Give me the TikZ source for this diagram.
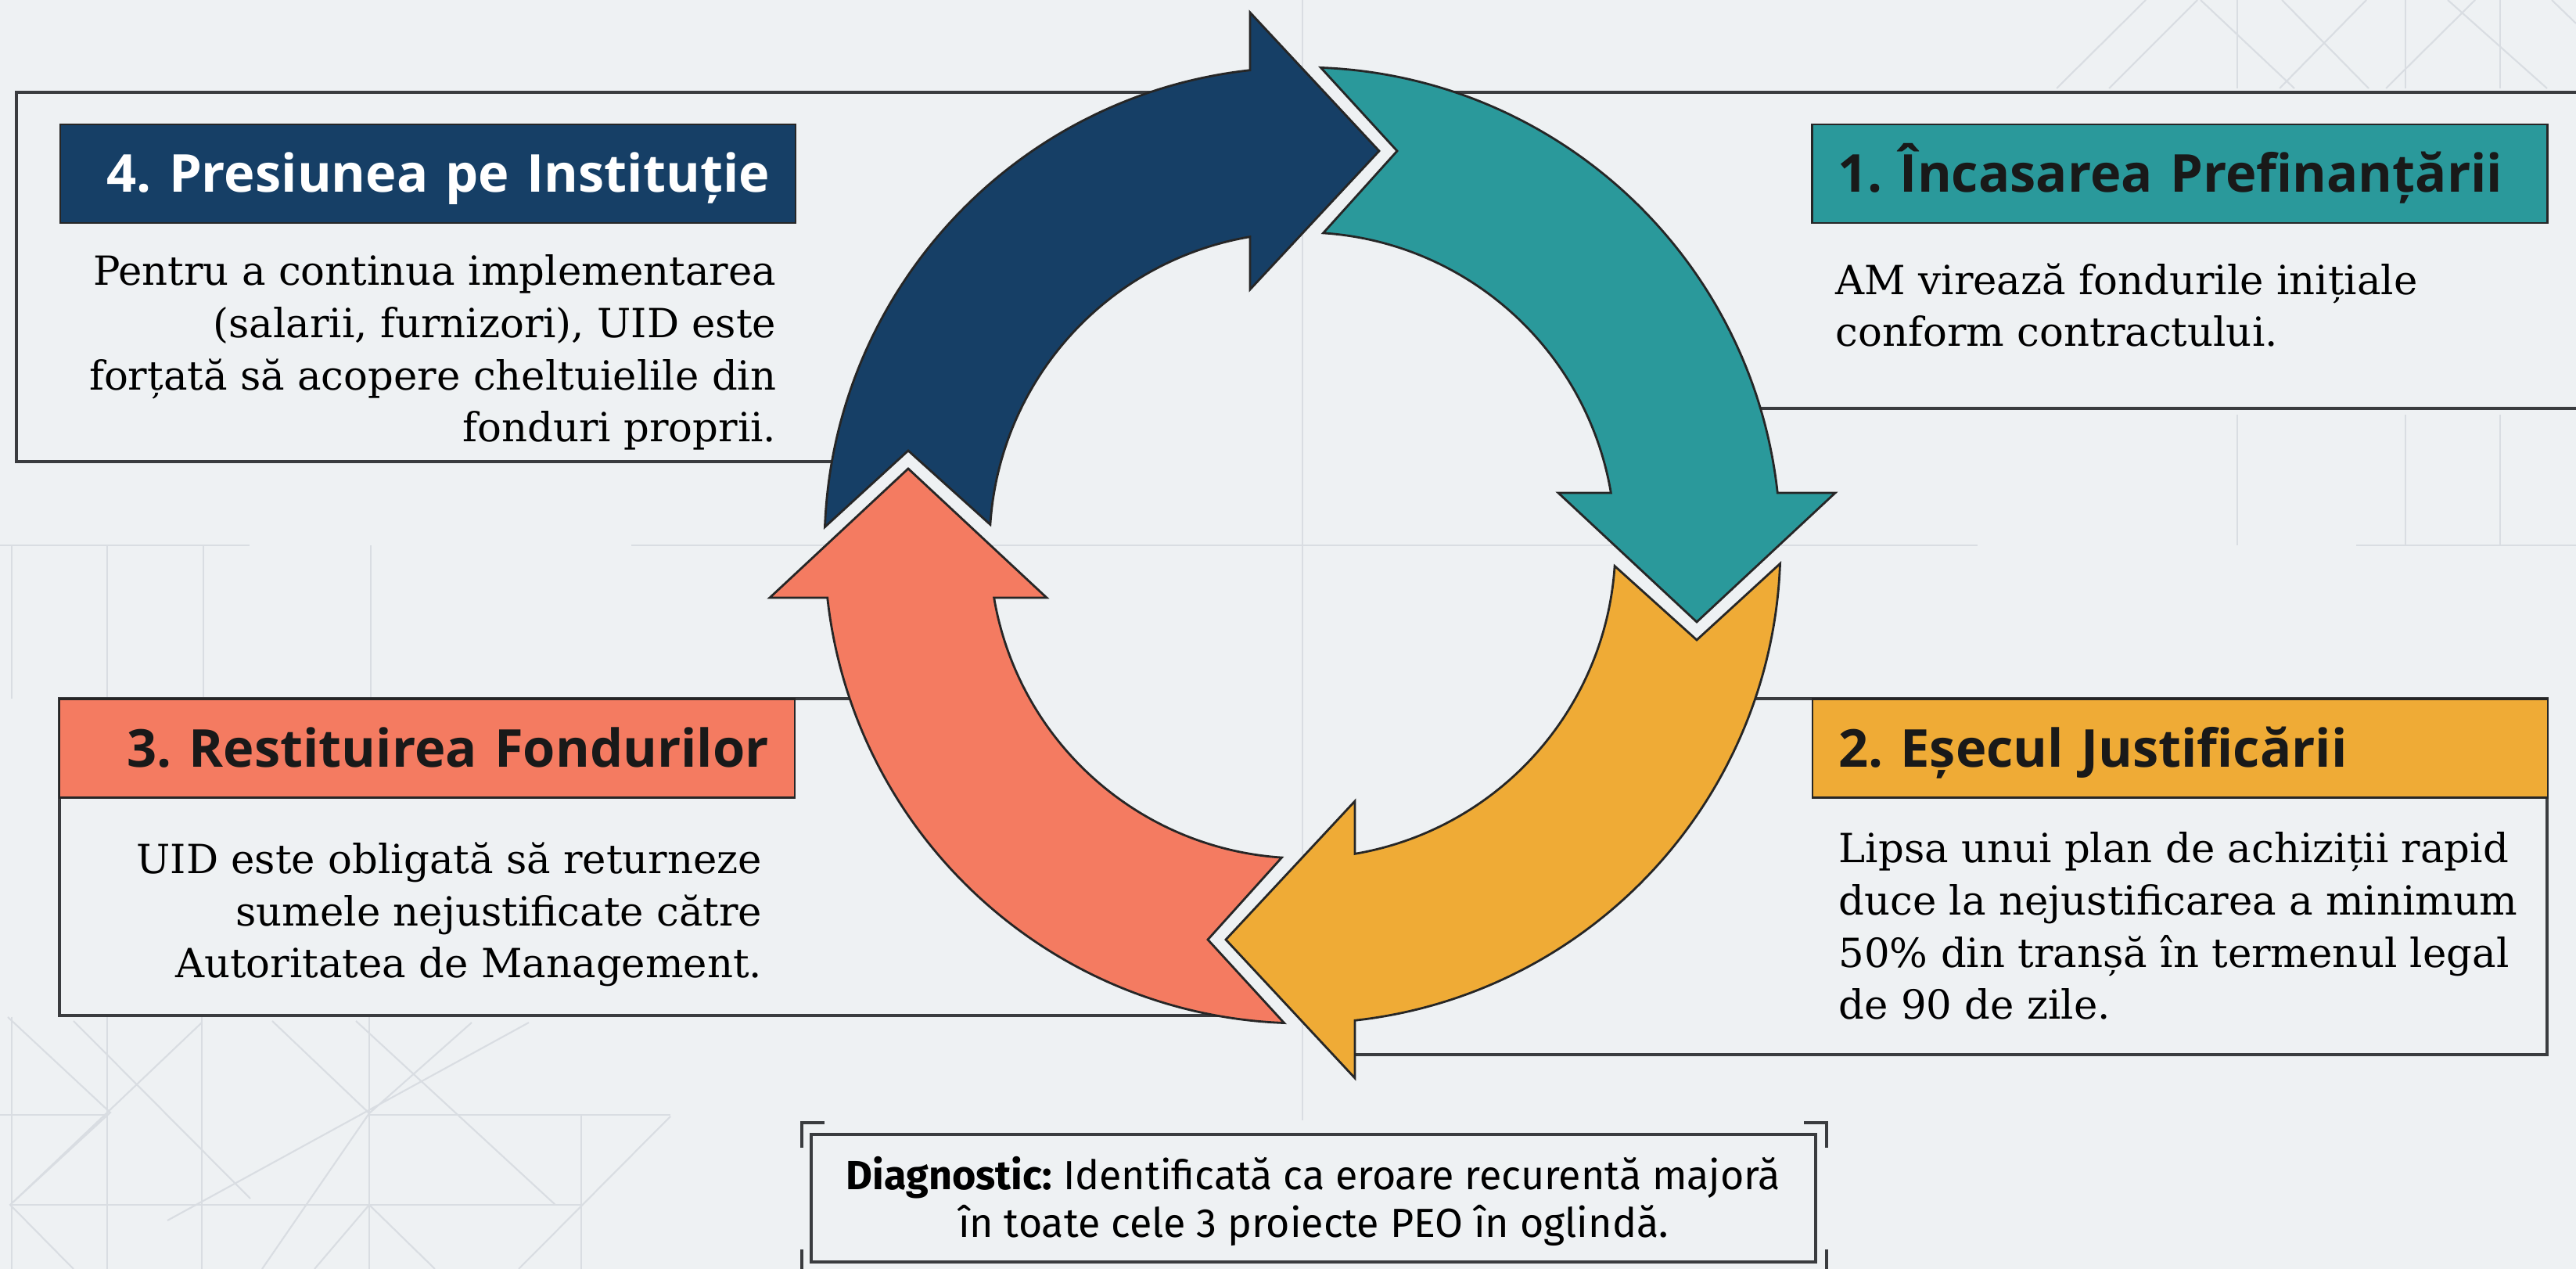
\documentclass[tikz,border=0pt]{standalone}
\usepackage{fontspec}
\setmainfont{DejaVu Serif}
\newfontfamily\headfont{Open Sans}
\newfontfamily\notefont{Fira Sans}
\usetikzlibrary{positioning}
\frenchspacing
\definecolor{cycblue}{HTML}{163F66}
\definecolor{cycteal}{HTML}{2A999B}
\definecolor{cycgold}{HTML}{EFAB36}
\definecolor{cycsalmon}{HTML}{F47B61}
\definecolor{paper}{HTML}{EEF1F3}
\definecolor{frameline}{HTML}{3A3C3F}
\definecolor{gridline}{HTML}{D9DDE2}
\tikzset{headbox/.style={draw=black!85, line width=0.8pt, minimum width=9.4cm, minimum height=1.26cm,
  text width=8.74cm, inner xsep=0.33cm, inner ysep=0pt, text height=0.48cm, text depth=0pt,
  font=\headfont\bfseries\fontsize{19}{22}\selectfont},
  blurb/.style={inner sep=0pt, font=\fontsize{14.6}{19}\selectfont},
  frame/.style={draw=frameline, line width=1.2pt},
  faint/.style={draw=gridline, line width=0.6pt}}

\begin{document}
\begin{tikzpicture}
\useasboundingbox (0,0) rectangle (32.93,16.22);
\fill[paper] (0,0) rectangle (32.93,16.22);

% faint background lines
\draw[faint] (16.65,16.22)--(16.65,1.9);
\draw[faint] (0,9.25)--(3.19,9.25) (8.07,9.25)--(25.28,9.25) (30.12,9.25)--(32.93,9.25);
\foreach \x in {0.15,1.37,2.60,4.74} \draw[faint] (\x,9.25)--(\x,7.29);
\foreach \x in {28.60,30.75,31.96} \draw[faint] (\x,9.25)--(\x,10.92) (\x,16.22)--(\x,15.09);
\draw[faint] (27.43,16.22)--(26.29,15.09) (28.09,16.22)--(26.96,15.09) (28.13,16.22)--(29.33,15.09)
  (29.17,16.22)--(30.28,15.09) (30.25,16.22)--(29.14,15.09) (31.29,16.22)--(32.56,15.09)
  (31.64,16.22)--(30.50,15.09) (32.62,16.22)--(32.93,15.92);
\foreach \x in {0.15,1.37,2.58,4.72} \draw[faint] (\x,3.22)--(\x,0);
\draw[faint] (7.43,1.97)--(7.43,0) (0,1.97)--(1.37,1.97) (4.72,1.97)--(8.57,1.97) (0.13,0.82)--(7.43,0.82);
\draw[faint] (0.10,3.22)--(1.41,2.00)--(0.13,0.82)--(0.94,0) (0.94,3.17)--(3.2,0.9) (2.58,3.15)--(0.13,0.82)
  (3.48,3.17)--(4.72,1.99)--(6.03,3.15) (6.76,3.15)--(2.14,0.62) (4.55,3.17)--(7.10,0.82)
  (8.57,1.95)--(6.63,0) (4.02,0)--(4.72,0.82)--(5.56,0) (4.72,1.99)--(3.35,0);

% frames of the four steps
\draw[frame] (15.5,15.04)--(0.21,15.04)--(0.21,10.32)--(11.0,10.32);
\draw[frame] (18.0,15.04)--(33.0,15.04) (21.5,11.0)--(33.0,11.0);
\draw[frame] (21.5,7.29)--(32.56,7.29)--(32.56,2.74)--(17.2,2.74);
\draw[frame] (11.5,7.29)--(0.76,7.29)--(0.76,3.24)--(15.9,3.24);

% step titles
\node[headbox, fill=cycblue, text=white, align=right] (t4) at (5.47,14.0) {4. Presiunea pe Instituție};
\node[headbox, fill=cycteal, text=black!90, align=left] (t1) at (27.865,14.0) {1. Încasarea Prefinanțării};
\node[headbox, fill=cycgold, text=black!90, align=left] (t2) at (27.87,6.655) {2. Eșecul Justificării};
\node[headbox, fill=cycsalmon, text=black!90, align=right] (t3) at (5.46,6.655) {3. Restituirea Fondurilor};

% step texts (base = last line)
\node[blurb, anchor=base east, align=right] (b4) at (9.93,10.57) {Pentru a continua implementarea\\(salarii, furnizori), UID este\\forțată să acopere cheltuielile din\\fonduri proprii.};
\node[blurb, anchor=base west, align=left] (b1) at (23.46,11.79) {AM virează fondurile inițiale\\conform contractului.};
\node[blurb, anchor=base west, align=left] (b2) at (23.50,3.19) {Lipsa unui plan de achiziții rapid\\duce la nejustificarea a minimum\\50\% din tranșă în termenul legal\\de 90 de zile.};
\node[blurb, anchor=base east, align=right] (b3) at (9.75,3.72) {UID este obligată să returneze\\sumele nejustificate către\\Autoritatea de Management.};

% the cycle
\foreach \turn/\col in {0/cycblue,-90/cycteal,-180/cycgold,90/cycsalmon}
  \filldraw[fill=\col, draw=black!85, line width=0.8pt, shift={(16.65,9.25)}, rotate=\turn]
    (177.8:6.11) arc[start angle=177.8, end angle=96.3, radius=6.11]
    -- (-0.67,6.81) -- (0.98,5.04) -- (-0.67,3.27) -- (99.64:4)
    arc[start angle=99.64, end angle=176.2, radius=4] -- (-5.04,1.21) -- cycle;

% diagnostic
\draw[frame] (10.37,0.09) rectangle (23.21,1.72);
\draw[frame, line width=1pt] (10.25,1.55)--(10.25,1.87)--(10.54,1.87) (23.06,1.87)--(23.35,1.87)--(23.35,1.55)
  (10.25,0.25)--(10.25,-0.1) (23.35,0.25)--(23.35,-0.1);
\node[font=\notefont\fontsize{14.8}{17.6}\selectfont, align=center, anchor=base, inner sep=0pt] (diag) at (16.79,0.40)
  {\textbf{Diagnostic:} Identificată ca eroare recurentă majoră\\în toate cele 3 proiecte PEO în oglindă.};
\end{tikzpicture}
\end{document}
